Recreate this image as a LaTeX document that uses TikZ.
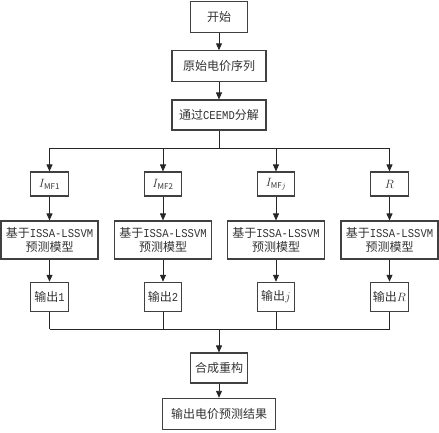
\documentclass[tikz,border=0pt]{standalone}
\usepackage{fontspec}
\usepackage{amsmath}
\setmainfont{Noto Sans CJK SC}
\newfontfamily\latinmono[FakeStretch=0.88]{Liberation Mono}
\usetikzlibrary{arrows.meta}

\begin{document}
\begin{tikzpicture}[x=1pt,y=-1pt,
    stage/.style ={rectangle, draw=black!75, line width=1.1pt, inner sep=0pt,
                   font=\fontsize{12}{14}\selectfont, text=black!80, align=center},
    small/.style ={stage, minimum width=37.6pt},
    wire/.style ={line width=0.9pt, black!85},
    arrow/.style ={wire, -{Triangle[width=6pt,length=7pt]}}]
   \useasboundingbox (0,0) rectangle (439,432);
   \node[stage, minimum width=56.6pt, minimum height=30.6pt] (start) at (219,17) {开始};
   \node[stage, minimum width=94pt, minimum height=30.3pt] (series) at (219,66) {原始电价序列};
   \node[stage, minimum width=94pt, minimum height=30pt] (ceemd) at (219,115) {通过{\latinmono CEEMD}分解};
   \node[small, minimum height=24pt] (imf1) at (49.5,184) {$I_{\mathrm{MF1}}$};
   \node[small, minimum height=24pt] (imf2) at (163,184) {$I_{\mathrm{MF2}}$};
   \node[small, minimum height=24pt] (imfj) at (276,184) {$I_{\mathrm{MF}j}$};
   \node[small, minimum height=24pt] (res) at (389.5,184) {$R$};
   \node[stage, minimum width=97pt, minimum height=38pt] (model1) at (49.5,240) {基于{\latinmono ISSA-LSSVM}\\预测模型};
   \node[stage, minimum width=97pt, minimum height=38pt] (model2) at (163,240) {基于{\latinmono ISSA-LSSVM}\\预测模型};
   \node[stage, minimum width=97pt, minimum height=38pt] (modelj) at (276,240) {基于{\latinmono ISSA-LSSVM}\\预测模型};
   \node[stage, minimum width=97pt, minimum height=38pt] (modelr) at (389.5,240) {基于{\latinmono ISSA-LSSVM}\\预测模型};
   \node[small, minimum height=29.4pt] (out1) at (49.5,297) {输出{\latinmono 1}};
   \node[small, minimum height=29.4pt] (out2) at (163,297) {输出{\latinmono 2}};
   \node[small, minimum height=29.4pt] (outj) at (276,297) {输出$j$};
   \node[small, minimum height=29.4pt] (outr) at (389.5,297) {输出$R$};
   \node[stage, minimum width=56.6pt, minimum height=30pt] (merge) at (219,368) {合成重构};
   \node[stage, minimum width=113.4pt, minimum height=30.7pt] (result) at (219,413.7) {输出电价预测结果};
   \coordinate (split) at (219,148);
   \coordinate (join) at (219,329);
   \draw[arrow] (start) to (series);
   \draw[arrow] (series) to (ceemd);
   \draw[wire] (ceemd) to (split);
   \draw[wire] (imf1 |- split) to (res |- split);
   \draw[wire] (out1 |- join) to (outr |- join);
   \foreach \i/\m/\o in {imf1/model1/out1, imf2/model2/out2, imfj/modelj/outj, res/modelr/outr} {
     \draw[arrow] (\i |- split) to (\i);
     \draw[arrow] (\i) to (\m);
     \draw[arrow] (\m) to (\o);
     \draw[wire] (\o) to (\o |- join);
   }
   \draw[arrow] (join) to (merge);
   \draw[arrow] (merge) to (result);
 \end{tikzpicture}
\end{document}
